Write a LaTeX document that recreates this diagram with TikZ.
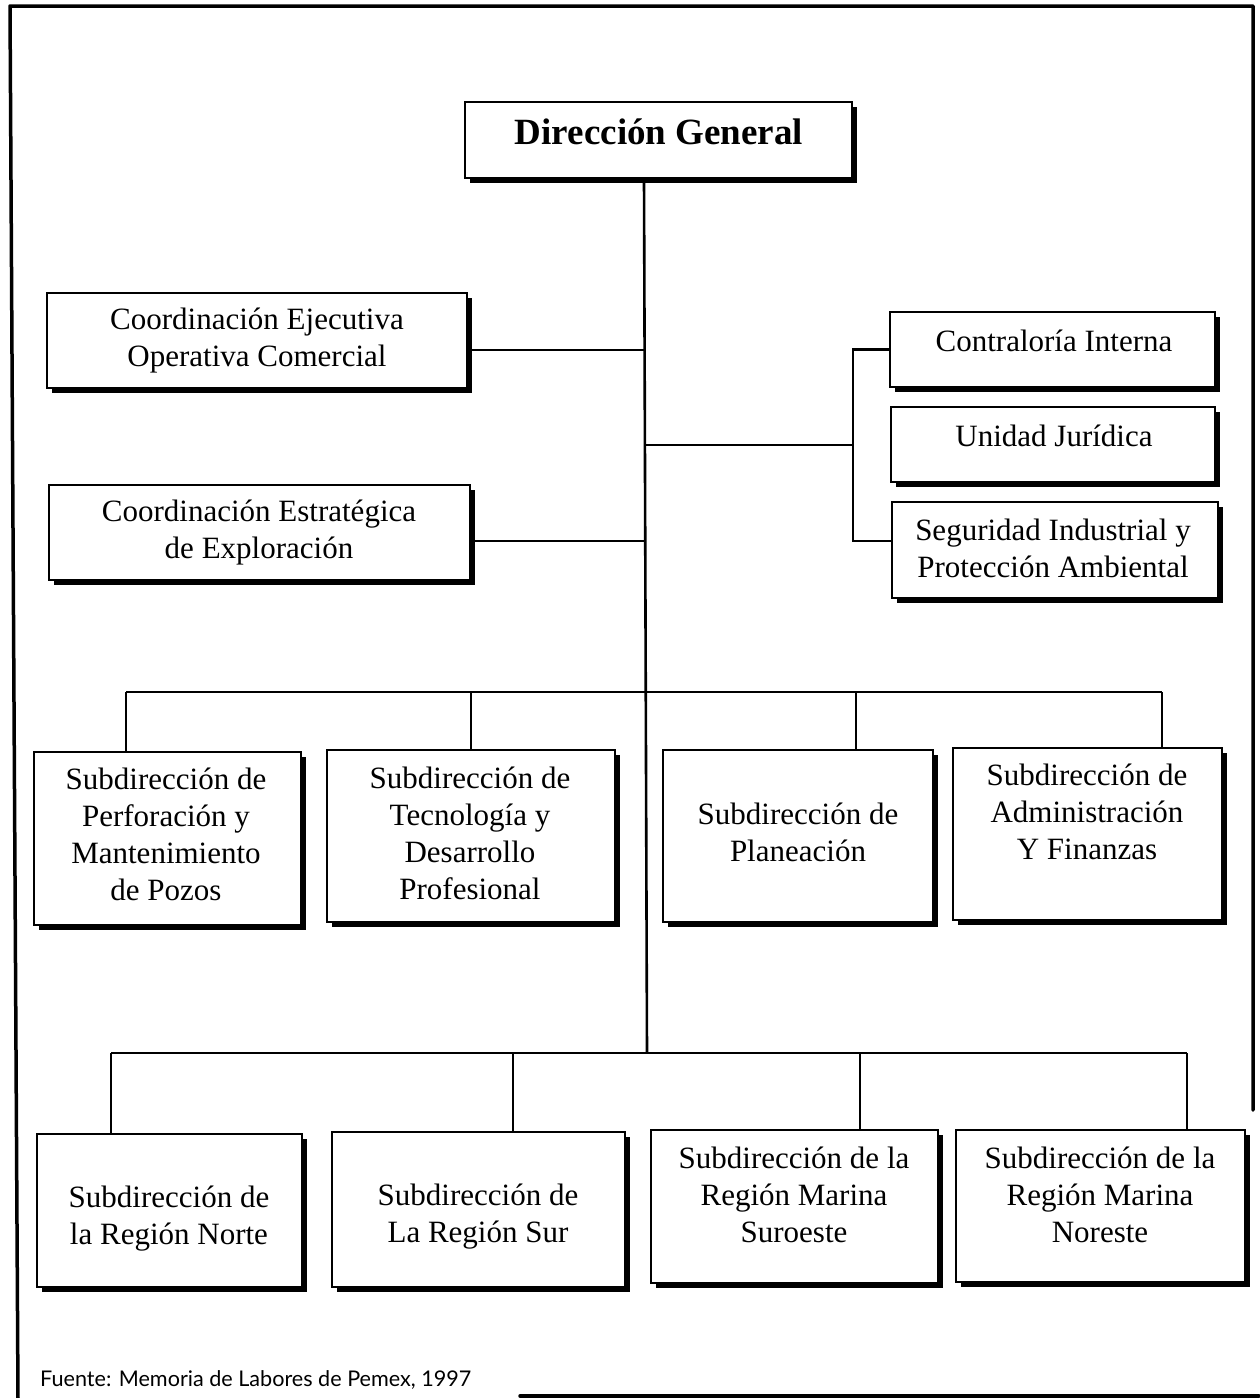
\documentclass[tikz,border=0pt]{standalone}
\usepackage{fontspec}
\setmainfont{Liberation Serif}
\newfontfamily\notefont{Lato}
\usetikzlibrary{shadows}
\tikzset{
  unitbox/.style={draw, line width=1.6pt, fill=white, inner sep=0pt,
    drop shadow={shadow xshift=5pt, shadow yshift=-5pt, fill=black, opacity=1}},
  boxtext/.style={align=center, inner sep=0pt,
    font=\fontsize{31}{37}\selectfont},
  link/.style={line width=2.6pt},
  frameline/.style={line width=3.5pt, line cap=round, line join=round}
}
\begin{document}
\begin{tikzpicture}[x=1pt, y=-1pt]
\useasboundingbox (0,0) rectangle (1259,1398);

% page frame
\draw[frameline] (18,1398) -- (10,6) -- (1253,6) -- (1253,1110);
\draw[frameline] (520,1396) -- (1259,1396);

% trunk and bus anchors
\coordinate (tk) at (644,0);
\coordinate (b1) at (644,692);
\coordinate (b2) at (647,1053);
\coordinate (rj) at (853,445);

% boxes
\node[unitbox, minimum width=387pt, minimum height=76pt]  (dg)   at (658.5,140) {};
\node[unitbox, minimum width=420pt, minimum height=95pt]  (ceoc) at (257,340.5) {};
\node[unitbox, minimum width=421pt, minimum height=95pt]  (cee)  at (259.5,532.5) {};
\node[unitbox, minimum width=325pt, minimum height=75pt]  (ci)   at (1052.5,349.5) {};
\node[unitbox, minimum width=324pt, minimum height=75pt]  (uj)   at (1053,444.5) {};
\node[unitbox, minimum width=326pt, minimum height=96pt]  (sipa) at (1055,550) {};
\node[unitbox, minimum width=267pt, minimum height=173pt] (spmp) at (167.5,838.5) {};
\node[unitbox, minimum width=288pt, minimum height=172pt] (stdp) at (471,836) {};
\node[unitbox, minimum width=270pt, minimum height=172pt] (sp)   at (798,836) {};
\node[unitbox, minimum width=269pt, minimum height=172pt] (saf)  at (1087.5,834) {};
\node[unitbox, minimum width=265pt, minimum height=153pt] (rn)   at (169.5,1210.5) {};
\node[unitbox, minimum width=293pt, minimum height=155pt] (rs)   at (478.5,1209.5) {};
\node[unitbox, minimum width=287pt, minimum height=153pt] (rmso) at (794.5,1206.5) {};
\node[unitbox, minimum width=289pt, minimum height=152pt] (rmne) at (1100.5,1206) {};

% box texts
\node[boxtext, font=\fontsize{37}{44}\selectfont\bfseries] (tdg) at (659,132) {Dirección General};
\node[boxtext] (tceoc) at (257,341) {Coordinación Ejecutiva\\Operativa Comercial};
\node[boxtext] (tcee)  at (259,533) {Coordinación Estratégica\\de Exploración};
\node[boxtext] (tci)   at (1054,341) {Contraloría Interna};
\node[boxtext] (tuj)   at (1054,436) {Unidad Jurídica};
\node[boxtext] (tsipa) at (1053,548) {Seguridad Industrial y\\Protección Ambiental};
\node[boxtext] (tspmp) at (166,834) {Subdirección de\\Perforación y\\Mantenimiento\\de Pozos};
\node[boxtext] (tstdp) at (470,833) {Subdirección de\\Tecnología y\\Desarrollo\\Profesional};
\node[boxtext] (tsp)   at (798,832) {Subdirección de\\Planeación};
\node[boxtext] (tsaf)  at (1087,812) {Subdirección de\\Administración\\Y Finanzas};
\node[boxtext] (trn)   at (169,1219) {Subdirección de\\la Región Norte};
\node[boxtext] (trs)   at (478,1217) {Subdirección de\\La Región Sur};
\node[boxtext] (trmso) at (794,1195) {Subdirección de la\\Región Marina\\Suroeste};
\node[boxtext] (trmne) at (1100,1195) {Subdirección de la\\Región Marina\\Noreste};

% connectors
\draw[link] (dg.south -| tk) -- (b2);
\draw[link] ([yshift=-9.5pt]ceoc.east) -- ([yshift=-9.5pt]ceoc.east -| tk);
\draw[link] ([yshift=-8.5pt]cee.east) -- ([yshift=-8.5pt]cee.east -| tk);
\draw[link] (ci.west) -| (rj) |- ([yshift=9pt]sipa.west);
\draw[link] (rj) -- (rj -| tk);

% first level of subdirections
\coordinate (d11) at (126,692);
\coordinate (d12) at (471,692);
\coordinate (d13) at (856,692);
\coordinate (d14) at (1162,692);
\draw[link] (d11) -- (d14);
\draw[link] (d11) -- (d11 |- spmp.north);
\draw[link] (d12) -- (d12 |- stdp.north);
\draw[link] (d13) -- (d13 |- sp.north);
\draw[link] (d14) -- (d14 |- saf.north);

% regional subdirections
\coordinate (d21) at (111,1053);
\coordinate (d22) at (513,1053);
\coordinate (d23) at (860,1053);
\coordinate (d24) at (1187,1053);
\draw[link] (d21) -- (d24);
\draw[link] (d21) -- (d21 |- rn.north);
\draw[link] (d22) -- (d22 |- rs.north);
\draw[link] (d23) -- (d23 |- rmso.north);
\draw[link] (d24) -- (d24 |- rmne.north);

% source note
\node[anchor=base west, inner sep=0pt, font=\notefont\fontsize{21.6}{26}\selectfont] (src) at (40,1386) {Fuente: Memoria de Labores de Pemex, 1997};
\end{tikzpicture}
\end{document}
